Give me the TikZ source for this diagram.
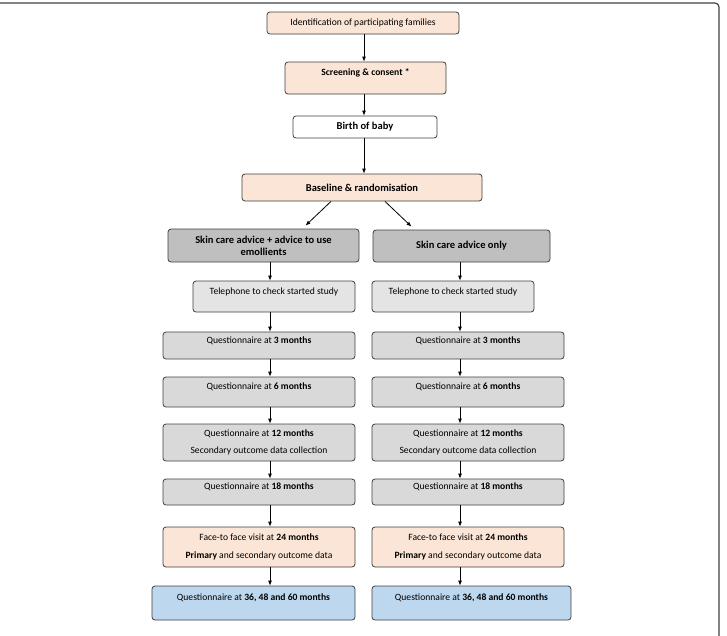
\documentclass[tikz,border=0pt]{standalone}
\usepackage{fontspec}
\setmainfont{Carlito}
\usetikzlibrary{arrows.meta, positioning}
\definecolor{peach}{HTML}{FBE5D6}
\definecolor{armgray}{HTML}{BFBFBF}
\definecolor{stepgray}{HTML}{D9D9D9}
\definecolor{finalblue}{HTML}{BDD7EE}
\definecolor{edgegray}{HTML}{404040}

\begin{document}
\begin{tikzpicture}[
    x=1pt, y=-1pt,
    box/.style={draw=edgegray, line width=0.8pt, rounded corners=3pt, inner sep=2pt, align=center, font=\fontsize{9.6}{11.5}\selectfont},
    head/.style={box, font=\fontsize{10.5}{12}\selectfont\bfseries},
    raised/.style={text depth=11pt},
    arr/.style={-{Latex[length=5pt,width=4pt]}, line width=0.8pt}
]
    \useasboundingbox (0,0) rectangle (727,635);
    \draw[edgegray, line width=1.2pt, rounded corners=4pt] (0,3) -- (719,3) -- (719,640);

    % common path
    \node[box, fill=peach, minimum width=192pt, minimum height=22pt] (ident) at (363,23) {Identification of participating families};
    \node[box, fill=peach, minimum width=161pt, minimum height=32pt, raised, font=\fontsize{9.6}{11.5}\selectfont\bfseries] (screen) at (365.5,78) {Screening \& consent *};
    \node[head, fill=white, minimum width=144pt, minimum height=22pt] (birth) at (365,127) {Birth of baby};
    \node[head, fill=peach, minimum width=240pt, minimum height=27pt] (base) at (362,187.5) {Baseline \& randomisation};

    % arms
    \node[head, fill=armgray, minimum width=191pt, minimum height=33pt] (armA) at (263.5,245.5) {Skin care advice + advice to use\\emollients};
    \node[head, fill=armgray, minimum width=177pt, minimum height=32pt] (armB) at (461.5,246) {Skin care advice only};

    \node[box, fill=stepgray!70, minimum width=162pt, minimum height=31pt, raised] (telA) at (274,296.5) {Telephone to check started study};
    \node[box, fill=stepgray!70, minimum width=162pt, minimum height=31pt, raised] (telB) at (453,296.5) {Telephone to check started study};

    \node[box, fill=stepgray, minimum width=192pt, minimum height=27pt, raised] (q3A) at (259,345.5) {Questionnaire at \textbf{3 months}};
    \node[box, fill=stepgray, minimum width=192pt, minimum height=27pt, raised] (q3B) at (468,345.5) {Questionnaire at \textbf{3 months}};

    \node[box, fill=stepgray, minimum width=192pt, minimum height=30pt, raised] (q6A) at (259,392) {Questionnaire at \textbf{6 months}};
    \node[box, fill=stepgray, minimum width=192pt, minimum height=30pt, raised] (q6B) at (468,392) {Questionnaire at \textbf{6 months}};

    \node[box, fill=stepgray, minimum width=192pt, minimum height=37pt] (q12A) at (259,442.5) {Questionnaire at \textbf{12 months}\\[5pt]Secondary outcome data collection};
    \node[box, fill=stepgray, minimum width=192pt, minimum height=37pt] (q12B) at (468,442.5) {Questionnaire at \textbf{12 months}\\[5pt]Secondary outcome data collection};

    \node[box, fill=stepgray, minimum width=192pt, minimum height=26pt, raised] (q18A) at (259,492) {Questionnaire at \textbf{18 months}};
    \node[box, fill=stepgray, minimum width=192pt, minimum height=26pt, raised] (q18B) at (468,492) {Questionnaire at \textbf{18 months}};

    \node[box, fill=peach, minimum width=192pt, minimum height=40pt] (visitA) at (259,547) {Face-to face visit at \textbf{24 months}\\[7pt]\textbf{Primary} and secondary outcome data};
    \node[box, fill=peach, minimum width=192pt, minimum height=40pt] (visitB) at (468,547) {Face-to face visit at \textbf{24 months}\\[7pt]\textbf{Primary} and secondary outcome data};

    \node[box, fill=finalblue, minimum width=203pt, minimum height=34pt, raised] (q36A) at (253.5,603) {Questionnaire at \textbf{36, 48 and 60 months}};
    \node[box, fill=finalblue, minimum width=199pt, minimum height=34pt, raised] (q36B) at (471.5,603) {Questionnaire at \textbf{36, 48 and 60 months}};

    % connectors
    \coordinate (colM) at (364,0);
    \coordinate (colA) at (270,0);
    \coordinate (colB) at (460,0);
    \foreach \a/\b in {ident/screen, screen/birth, birth/base}
        \draw[arr] (\a.south -| colM) -- (\b.north -| colM);
    \draw[arr] ([xshift=-31pt]base.south) -- ([shift={(42pt,3pt)}]armA.north);
    \draw[arr] ([xshift=23pt]base.south) -- ([shift={(-50pt,3pt)}]armB.north);
    \foreach \s in {A,B}
        \foreach \a/\b in {arm/tel, tel/q3, q3/q6, q6/q12, q12/q18, q18/visit, visit/q36}
            \draw[arr] (\a\s.south -| col\s) -- (\b\s.north -| col\s);
\end{tikzpicture}
\end{document}
